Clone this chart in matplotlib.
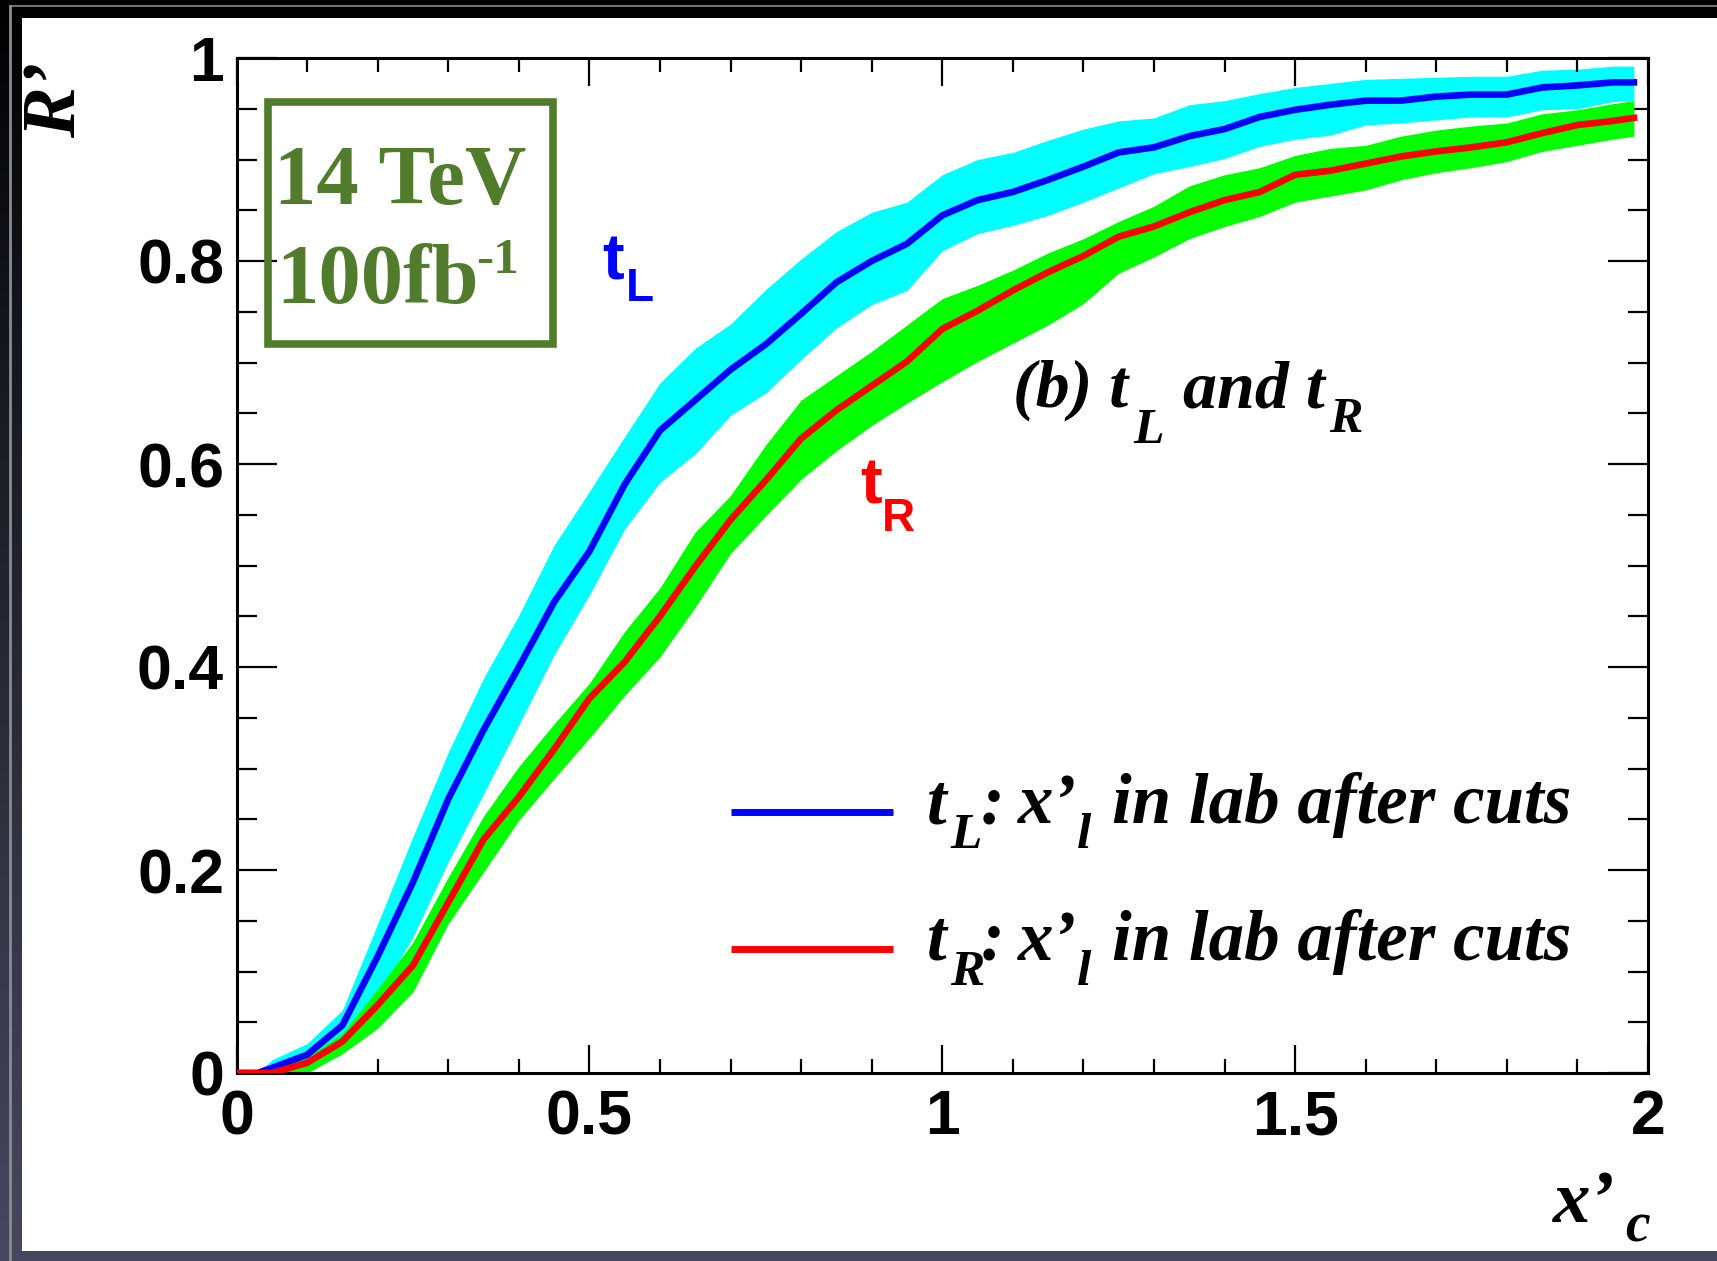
import numpy as np
import matplotlib
matplotlib.use("Agg")
import matplotlib.pyplot as plt
from matplotlib.patches import Rectangle
from matplotlib.lines import Line2D
from matplotlib.ticker import MultipleLocator, FuncFormatter

# ---------------- data ----------------
x_c = [0.0, 0.03, 0.05, 0.10, 0.15, 0.20, 0.25, 0.30, 0.35, 0.40, 0.45, 0.50,
       0.55, 0.60, 0.65, 0.70, 0.75, 0.80, 0.85, 0.90, 0.95, 1.00, 1.05, 1.10,
       1.15, 1.20, 1.25, 1.30, 1.35, 1.40, 1.45, 1.50, 1.55, 1.60, 1.65, 1.70,
       1.75, 1.80, 1.85, 1.90, 1.95, 1.98]

tL_central = [0.0, 0.0, 0.005, 0.018, 0.047, 0.115, 0.188, 0.270, 0.338, 0.400,
              0.464, 0.514, 0.580, 0.633, 0.663, 0.693, 0.718, 0.748, 0.779, 0.800,
              0.817, 0.845, 0.860, 0.868, 0.880, 0.893, 0.907, 0.912, 0.923, 0.930,
              0.942, 0.949, 0.954, 0.958, 0.958, 0.962, 0.964, 0.964, 0.971, 0.973,
              0.976, 0.976]
tL_upper = [0.0, 0.0, 0.013, 0.029, 0.062, 0.147, 0.233, 0.316, 0.389, 0.451,
            0.520, 0.573, 0.627, 0.680, 0.714, 0.738, 0.772, 0.802, 0.829, 0.848,
            0.858, 0.885, 0.900, 0.907, 0.919, 0.930, 0.938, 0.941, 0.954, 0.958,
            0.965, 0.971, 0.975, 0.979, 0.980, 0.981, 0.982, 0.982, 0.988, 0.989,
            0.992, 0.992]
tL_lower = [0.0, 0.0, 0.0, 0.010, 0.032, 0.076, 0.134, 0.208, 0.275, 0.343,
            0.412, 0.471, 0.536, 0.582, 0.610, 0.648, 0.670, 0.703, 0.734, 0.757,
            0.771, 0.810, 0.827, 0.835, 0.845, 0.858, 0.872, 0.886, 0.893, 0.901,
            0.913, 0.920, 0.924, 0.934, 0.936, 0.939, 0.942, 0.942, 0.949, 0.950,
            0.957, 0.958]

tR_central = [0.0, 0.0, 0.0, 0.010, 0.031, 0.067, 0.106, 0.168, 0.230, 0.272,
              0.319, 0.369, 0.405, 0.450, 0.499, 0.545, 0.584, 0.625, 0.653, 0.677,
              0.701, 0.733, 0.751, 0.771, 0.789, 0.805, 0.824, 0.834, 0.848, 0.860,
              0.868, 0.885, 0.889, 0.896, 0.903, 0.908, 0.912, 0.917, 0.926, 0.934,
              0.938, 0.941]
tR_upper = [0.0, 0.0, 0.002, 0.016, 0.039, 0.083, 0.129, 0.193, 0.253, 0.302,
            0.344, 0.384, 0.435, 0.478, 0.533, 0.569, 0.619, 0.663, 0.687, 0.711,
            0.737, 0.763, 0.776, 0.791, 0.808, 0.822, 0.839, 0.854, 0.874, 0.885,
            0.892, 0.904, 0.911, 0.914, 0.923, 0.929, 0.933, 0.936, 0.945, 0.949,
            0.955, 0.958]
tR_lower = [0.0, 0.0, 0.0, 0.0, 0.019, 0.044, 0.080, 0.147, 0.198, 0.249,
            0.290, 0.330, 0.372, 0.410, 0.459, 0.512, 0.549, 0.585, 0.613, 0.638,
            0.660, 0.681, 0.701, 0.719, 0.737, 0.758, 0.788, 0.804, 0.822, 0.834,
            0.844, 0.858, 0.864, 0.870, 0.880, 0.887, 0.892, 0.898, 0.908, 0.914,
            0.920, 0.923]

x_ticks = [0, 0.5, 1, 1.5, 2]
y_ticks = [0, 0.2, 0.4, 0.6, 0.8, 1]
legend_labels = ["L", "R"]

# ---------------- style ----------------
plt.rcParams["font.family"] = ["Liberation Sans", "DejaVu Sans"]
plt.rcParams["font.weight"] = "bold"

W, H = 1717, 1261
fig = plt.figure(figsize=(W / 100, H / 100), dpi=100)


def fx(px):
    return px / W


def fy(py):
    return 1 - py / H


# dark gradient frame with white canvas
bg = fig.add_axes([0, 0, 1, 1], zorder=-10)
bg.set_axis_off()
ramp = np.linspace(0, 1, 256)[:, None, None] ** 0.9
c_top = np.array([0.0, 0.0, 0.0])
c_bot = np.array([0x47, 0x48, 0x60]) / 255
bg.imshow(c_top + (c_bot - c_top) * ramp, aspect="auto", extent=[0, 1, 0, 1])
bg.set_xlim(0, 1)
bg.set_ylim(0, 1)
bg.add_patch(Rectangle((fx(22), fy(1251)), 1 - fx(22), fy(18) - fy(1251),
                       facecolor="white", edgecolor="none"))
bg.plot([fx(10), fx(10)], [0, fy(6)], color="#8c8c8c", lw=2)
bg.plot([fx(10), 1], [fy(6), fy(6)], color="#8c8c8c", lw=1.2)

# main axes
ax = fig.add_axes([fx(236.5), fy(1073), fx(1648) - fx(236.5), fy(58) - fy(1073)])
ax.set_facecolor("none")
ax.fill_between(x_c, tL_lower, tL_upper, color="#00ffff", lw=0, zorder=1)
ax.fill_between(x_c, tR_lower, tR_upper, color="#00ff00", lw=0, zorder=2)
ax.plot(x_c, tL_central, color="#0000ff", lw=4.8, zorder=3)
ax.plot(x_c, tR_central, color="#ff0000", lw=4.8, zorder=4)

ax.set_xlim(0, 2)
ax.set_ylim(0, 1)
ax.set_xticks(x_ticks)
ax.set_yticks(y_ticks)
ax.xaxis.set_minor_locator(MultipleLocator(0.1))
ax.yaxis.set_minor_locator(MultipleLocator(0.05))
fmt = FuncFormatter(lambda v, p: "%g" % v)
ax.xaxis.set_major_formatter(fmt)
ax.yaxis.set_major_formatter(fmt)
ax.tick_params(which="both", direction="in", top=True, right=True, width=1.6,
               color="black")
ax.tick_params(axis="x", which="major", length=20, pad=11, labelsize=45)
ax.tick_params(axis="x", which="minor", length=10)
ax.tick_params(axis="y", which="major", length=29, pad=9, labelsize=45)
ax.tick_params(axis="y", which="minor", length=14.5)
for sp in ax.spines.values():
    sp.set_linewidth(2.2)

serif_bi = dict(family=["Liberation Serif", "DejaVu Serif"], weight="bold",
                style="italic", color="black")


def put(xp, yp, s, size, **kw):
    fig.text(fx(xp), fy(yp), s, ha="left", va="baseline", fontsize=size, **kw)


# axis titles
fig.text(fx(57), fy(62), "R\u2019", rotation=90, ha="center", va="top",
         fontsize=55, **serif_bi)
put(1553, 1222, "x\u2019", 54, **serif_bi)
put(1625, 1241, "c", 40, **serif_bi)

# energy / luminosity box
green = "#517c2c"
fig.add_artist(Rectangle((fx(268), fy(344)), fx(553) - fx(268), fy(102) - fy(344),
                         fill=False, edgecolor=green, lw=5.5,
                         transform=fig.transFigure))
serif_b = dict(family=["Liberation Serif", "DejaVu Serif"], weight="bold",
               color=green)
put(274, 204, "14 TeV", 61, **serif_b)
put(276, 303, "100fb", 61, **serif_b)
put(476, 273, "-1", 37, **serif_b)

# curve labels
put(602, 279, "t", 47, color="#0000ff", weight="bold")
put(626, 301, "L", 33, color="#0000ff", weight="bold")
put(860, 504, "t", 47, color="#ff0000", weight="bold")
put(882, 531, "R", 33, color="#ff0000", weight="bold")

# panel title
put(1013, 407, "(b) t", 49, **serif_bi)
put(1133, 443, "L", 36, **serif_bi)
put(1183, 407, "and t", 49, **serif_bi)
put(1329, 432, "R", 36, **serif_bi)

# legend
leg_y = [812, 949]
leg_col = ["#0000ff", "#ff0000"]
for yl, col, sub in zip(leg_y, leg_col, legend_labels):
    fig.add_artist(Line2D([fx(731), fx(893)], [fy(yl), fy(yl)], color=col, lw=5,
                          transform=fig.transFigure, solid_capstyle="butt"))
    base = yl + 11
    put(927, base, "t", 51, **serif_bi)
    put(950, base + 25, sub, 37, **serif_bi)
    put(981, base, ":", 51, **serif_bi)
    put(1018, base, "x\u2019", 51, **serif_bi)
    put(1077, base + 25, "l", 37, **serif_bi)
    put(1112, base, "in lab after cuts", 51, **serif_bi)

fig.savefig("out.png", dpi=100)
